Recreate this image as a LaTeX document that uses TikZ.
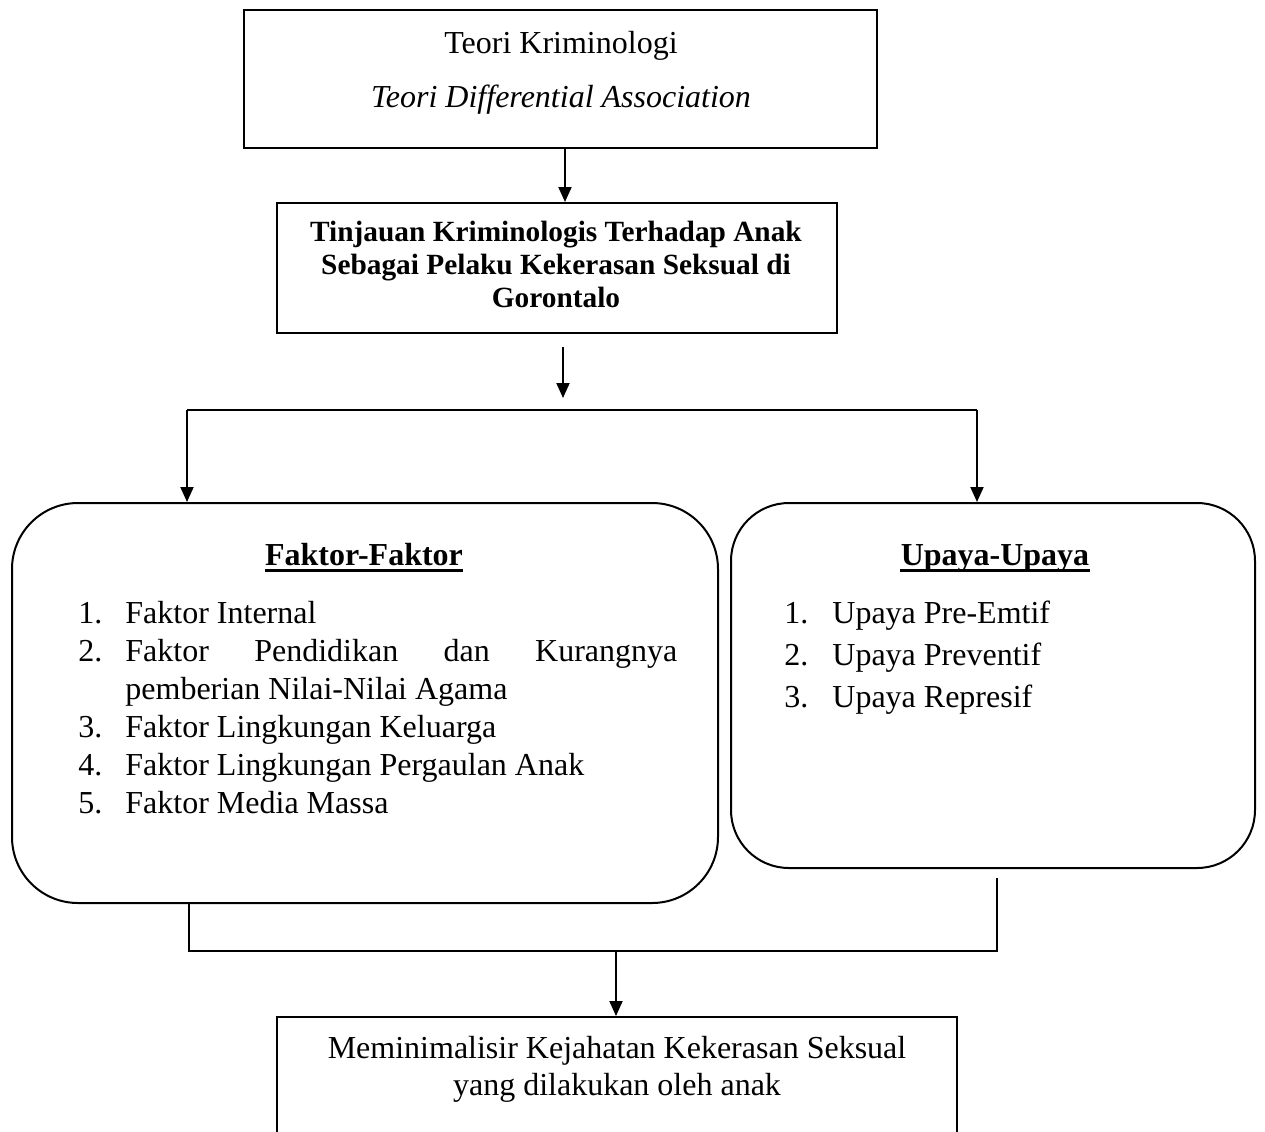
\documentclass[tikz,border=0pt]{standalone}
\usepackage{fontspec}
\setmainfont{Liberation Serif}
\usetikzlibrary{arrows.meta}
\begin{document}
\begin{tikzpicture}[x=0.5pt,y=-0.5pt,
  box/.style={draw,line width=1pt,rectangle,inner sep=0pt},
  arr/.style={line width=1pt,-{Triangle[length=7.5pt,width=6.5pt]}},
  conn/.style={line width=0.8pt},
  txt/.style={font=\fontsize{16}{19}\selectfont,inner sep=0pt,anchor=base},
  btxt/.style={font=\fontsize{14.67}{17}\selectfont\bfseries,inner sep=0pt,anchor=base},
  lst/.style={txt,anchor=base west},
  uline/.style={line width=1.4pt}]
\useasboundingbox (0,0) rectangle (1265,1131);
\clip (0,0) rectangle (1265,1131);

% boxes
\node[box,minimum width=316.5pt,minimum height=69pt] (top) at (560.5,79) {};
\node[box,minimum width=280pt,minimum height=65pt] (mid) at (557,268) {};
\node[box,rounded corners=33pt,minimum width=353pt,minimum height=200pt] (fak) at (365,703) {};
\node[box,rounded corners=29pt,minimum width=262pt,minimum height=182.5pt] (upa) at (993,685.5) {};
\node[box,minimum width=340pt,minimum height=91.5pt] (hasil) at (617,1108.5) {};

% top texts
\node[txt] (t1) at (561,53) {Teori Kriminologi};
\node[txt] (t2) at (561,107) {\itshape Teori Differential Association};

% mid texts
\node[btxt] (m1) at (556,241) {Tinjauan Kriminologis Terhadap Anak};
\node[btxt] (m2) at (556,274) {Sebagai Pelaku Kekerasan Seksual di};
\node[btxt] (m3) at (556,307) {Gorontalo};

% headings
\node[txt] (h1) at (364,565) {\bfseries Faktor-Faktor};
\draw[uline] ([yshift=-2.6pt]h1.base west) -- ([yshift=-2.6pt]h1.base east);
\node[txt] (h2) at (995,565) {\bfseries Upaya-Upaya};
\draw[uline] ([yshift=-2.6pt]h2.base west) -- ([yshift=-2.6pt]h2.base east);

% left list
\node[lst] (n1) at (78,623) {1.};
\node[lst] (f1) at (125,623) {Faktor Internal};
\node[lst] (n2) at (78,661) {2.};
\node[lst] (f2) at (125,661) {\hbox to 276pt{Faktor\hfill Pendidikan\hfill dan\hfill Kurangnya}};
\node[lst] (f2b) at (125,699) {pemberian Nilai-Nilai Agama};
\node[lst] (n3) at (78,737) {3.};
\node[lst] (f3) at (125,737) {Faktor Lingkungan Keluarga};
\node[lst] (n4) at (78,775) {4.};
\node[lst] (f4) at (125,775) {Faktor Lingkungan Pergaulan Anak};
\node[lst] (n5) at (78,813) {5.};
\node[lst] (f5) at (125,813) {Faktor Media Massa};

% right list
\node[lst] (u1n) at (784,623) {1.};
\node[lst] (u1) at (832,623) {Upaya Pre-Emtif};
\node[lst] (u2n) at (784,665) {2.};
\node[lst] (u2) at (832,665) {Upaya Preventif};
\node[lst] (u3n) at (784,707) {3.};
\node[lst] (u3) at (832,707) {Upaya Represif};

% bottom texts
\node[txt] (b1) at (617,1058) {Meminimalisir Kejahatan Kekerasan Seksual};
\node[txt] (b2) at (617,1095) {yang dilakukan oleh anak};

% connectors
\coordinate (ax) at (565,0);
\draw[arr] (top.south -| ax) -- (mid.north -| ax);

\coordinate (s0) at (563,347);
\coordinate (s1) at (563,398);
\draw[arr] (s0) -- (s1);

\coordinate (bl) at (187,410);
\coordinate (br) at (977,410);
\draw[conn] (bl) -- (br);
\draw[arr] (bl) -- (bl |- fak.north);
\draw[arr] (br) -- (br |- upa.north);

\coordinate (jl) at (189,951);
\coordinate (jr) at (997,951);
\coordinate (rt) at (997,878);
\coordinate (jm) at (616,951);
\draw[conn] (fak.south -| jl) -- (jl) -- (jr) -- (rt);
\draw[arr] (jm) -- (jm |- hasil.north);
\end{tikzpicture}
\end{document}
